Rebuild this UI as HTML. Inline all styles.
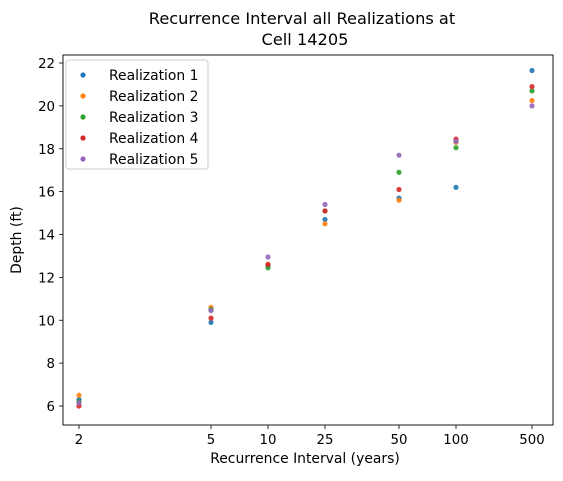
<!DOCTYPE html>
<html><head><meta charset="utf-8"><style>
body{margin:0;background:#fff;font-family:"Liberation Sans","DejaVu Sans",sans-serif}
text{font-family:"DejaVu Sans","Liberation Sans",sans-serif;fill:#000}
</style></head><body>
<svg id="c" width="563" height="476" xmlns="http://www.w3.org/2000/svg"></svg>
<script>
const categories=[2,5,10,25,50,100,500];
const tickLabels=["2","5","10","25","50","100","500"];
const r1=[6.3,9.9,12.55,14.7,15.7,16.2,21.65];
const r2=[6.5,10.6,12.6,14.5,15.6,18.3,20.25];
const r3=[6.2,10.5,12.45,15.1,16.9,18.05,20.7];
const r4=[6.0,10.1,12.6,15.1,16.1,18.45,20.9];
const r5=[6.15,10.45,12.95,15.4,17.7,18.35,20.0];
const yTicks=[6,8,10,12,14,16,18,20,22];
const seriesNames=["Realization 1","Realization 2","Realization 3","Realization 4","Realization 5"];
const colors=["#1f77b4","#ff7f0e","#2ca02c","#d62728","#9467bd"];
const series=[r1,r2,r3,r4,r5];
const NS="http://www.w3.org/2000/svg";
const svg=document.getElementById('c');
const L=63,R=553,T=55,B=425;
const tickPx=[79,211,268,325,399,456,532];
function xs(v){const lv=Math.log10(v);const lc=categories.map(Math.log10);
 for(let i=0;i<lc.length-1;i++){if(lv<=lc[i+1]||i==lc.length-2){const t=(lv-lc[i])/(lc[i+1]-lc[i]);return tickPx[i]+t*(tickPx[i+1]-tickPx[i]);}}}
function ys(v){return 406-(v-6)*(343/16);}
function el(t,a,p){const e=document.createElementNS(NS,t);for(const k in a)e.setAttribute(k,a[k]);(p||svg).appendChild(e);return e;}
let t=el('text',{x:302,y:24,'text-anchor':'middle','font-size':16.2});t.textContent="Recurrence Interval all Realizations at";


t=el('text',{x:305,y:45,'text-anchor':'middle','font-size':16.2});t.textContent="Cell 14205";


categories.forEach((c,i)=>{const x=xs(c);
 el('line',{x1:x,x2:x,y1:B,y2:B+4,stroke:'#000','stroke-width':0.8});
 const tx=el('text',{x:x,y:B+19,'text-anchor':'middle','font-size':13.3});tx.textContent=tickLabels[i];
 
 });
yTicks.forEach(v=>{const y=ys(v);
 el('line',{x1:L-4,x2:L,y1:y,y2:y,stroke:'#000','stroke-width':0.8});
 const tx=el('text',{x:L-8,y:y+5,'text-anchor':'end','font-size':13.3});tx.textContent=v;
 
 });
t=el('text',{x:305,y:463,'text-anchor':'middle','font-size':13.9});t.textContent="Recurrence Interval (years)";


t=el('text',{x:21,y:240,'text-anchor':'middle','font-size':13.9,transform:'rotate(-90 21 240)'});t.textContent="Depth (ft)";


series.forEach((s,si)=>{s.forEach((v,i)=>{const p=el('circle',{cx:xs(categories[i]),cy:ys(v),r:2.6,fill:colors[si],'fill-opacity':0.9});
 
 });});
el('rect',{x:L,y:T,width:R-L,height:B-T,fill:'none',stroke:'#000','stroke-width':0.9});
const lg=el('g',{});


el('rect',{x:66,y:60,width:142,height:109,rx:3,fill:'#fff',stroke:'#ccc','stroke-width':1,'fill-opacity':0.8},lg);
seriesNames.forEach((n,i)=>{const y=75+i*21;
 el('circle',{cx:83,cy:y,r:2.6,fill:colors[i]},lg);
 const tx=el('text',{x:109,y:y+5,'font-size':13.9},lg);tx.textContent=n;
 
 });
</script>
</body></html>
